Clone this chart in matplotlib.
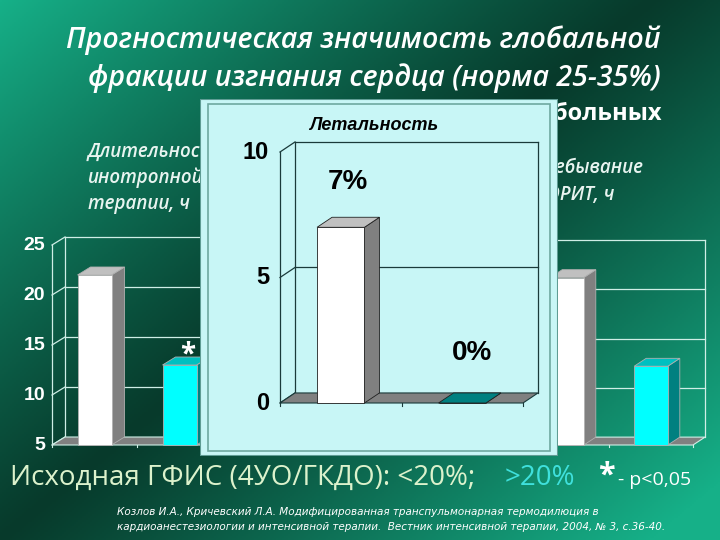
import matplotlib.pyplot as plt
import numpy as np
from matplotlib.patches import Polygon, Rectangle

plt.rcParams['font.family'] = ['Open Sans', 'DejaVu Sans']

# data
left_vals = [22, 13]       # Длительность инотропной терапии, ч
right_vals = [22, 13]      # Пребывание в ОРИТ, ч
main_ticks = [5, 10, 15, 20, 25]
lethal_vals = [7, 0]       # Летальность, %
lethal_labels = ['7%', '0%']
lethal_ticks = [0, 5, 10]

face_cols = ['#ffffff', '#00ffff']
side_cols = ['#808080', '#008080']
top_cols = ['#c0c0c0', '#00c0c0']


def bars3d(ax, vals, base, width, dx, dy, edge):
    xs = np.arange(len(vals)) + 0.5
    for i, (x, v) in enumerate(zip(xs, vals)):
        l, r = x - width / 2, x + width / 2
        ax.add_patch(Polygon([(r, base), (r + dx, base + dy), (r + dx, v + dy), (r, v)],
                             closed=True, fc=side_cols[i], ec=edge, lw=0.6, zorder=4, clip_on=False))
        ax.add_patch(Polygon([(l, v), (r, v), (r + dx, v + dy), (l + dx, v + dy)],
                             closed=True, fc=top_cols[i] if v > base else side_cols[i],
                             ec=edge, lw=0.6, zorder=4, clip_on=False))
    ax.bar(xs, [v - base for v in vals], width, bottom=base, color=face_cols,
           edgecolor=edge, linewidth=0.6, zorder=5, clip_on=False)


def frame3d(ax, n, ticks, dx, dy, col, floor_col='#808080', right_wall=False):
    lo, hi = ticks[0], ticks[-1]
    ax.add_patch(Polygon([(0, lo), (n, lo), (n + dx, lo + dy), (dx, lo + dy)],
                         closed=True, fc=floor_col, ec=col, lw=0.8, zorder=2, clip_on=False))
    for t in ticks[1:]:
        ax.plot([dx, n + dx], [t + dy, t + dy], color=col, lw=0.9, zorder=1, clip_on=False)
    ax.plot([dx, dx], [lo + dy, hi + dy], color=col, lw=0.9, zorder=1, clip_on=False)
    ax.plot([0, 0], [lo, hi], color=col, lw=0.9, zorder=1, clip_on=False)
    for t in ticks:
        ax.plot([0, dx], [t, t + dy], color=col, lw=0.9, zorder=1, clip_on=False)
    if right_wall:
        ax.plot([n + dx, n + dx], [lo + dy, hi + dy], color=col, lw=0.9, zorder=1, clip_on=False)
    for k in range(n + 1):
        ax.plot([k, k], [lo, lo - (hi - lo) * 0.012], color=col, lw=0.8, clip_on=False)
    ax.set_xlim(0, n)
    ax.set_ylim(lo, hi)
    ax.axis('off')


fig = plt.figure(figsize=(7.2, 5.4), dpi=100)
W, H = 720, 540

# background gradient (texts behind the inset live on this axes too)
bg = fig.add_axes([0, 0, 1, 1])
yy, xx = np.mgrid[0:1:270j, 0:1:360j]
u = np.clip(np.abs(xx * 1.05 + yy * 0.95 - 0.95) / 0.95, 0, 1) ** 1.1
dark = np.array([0x07, 0x3a, 0x2b]) / 255
light = np.array([0x16, 0xb0, 0x88]) / 255
img = dark + (light - dark) * u[..., None]
bg.imshow(img, extent=[0, W, H, 0], aspect='auto')
bg.set_xlim(0, W)
bg.set_ylim(H, 0)
bg.axis('off')


def px(x0, y0, x1, y1):
    return [x0 / W, 1 - y1 / H, (x1 - x0) / W, (y1 - y0) / H]


# title
title_kw = dict(color='white', fontsize=20.5, style='italic', fontweight='semibold',
                ha='right', va='center')
bg.text(661, 40, 'Прогностическая значимость глобальной', **title_kw)
bg.text(661, 78, 'фракции изгнания сердца (норма 25-35%)', **title_kw)
bg.text(662, 114, 'больных', color='white',
        fontsize=17, fontweight='bold', ha='right', va='center')

# chart captions
for i, s in enumerate(['Длительность', 'инотропной', 'терапии, ч']):
    bg.text(88, 152 + 26 * i, s, color='#e8f4f0', fontsize=13.5, fontweight='semibold',
            style='italic', ha='left', va='center')
for i, s in enumerate(['Пребывание', 'в ОРИТ, ч']):
    bg.text(531, 168 + 27 * i, s, color='#e8f4f0', fontsize=13.5, fontweight='semibold',
            style='italic', ha='left', va='center')

# left chart
axl = fig.add_axes(px(52, 245, 222, 445))
frame3d(axl, 2, main_ticks, 13 / 85, 0.8, '#cfeee6')
bars3d(axl, left_vals, 5, 0.4, 13 / 85, 0.8, '#b0b0b0')
for t in main_ticks:
    axl.text(-0.08, t, str(t), color='white', fontsize=14, fontweight='bold',
             family='Liberation Sans', ha='right', va='center')
axl.text(1.5 + 0.1, left_vals[1] + 1.0, '*', color='white', fontsize=20,
         fontweight='bold', ha='center', va='center')

# right chart
axr = fig.add_axes(px(525, 248, 693, 445))
frame3d(axr, 2, main_ticks, 12 / 84, 0.8, '#cfeee6', right_wall=True)
bars3d(axr, right_vals, 5, 0.4, 12 / 84, 0.8, '#b0b0b0')

# inset: lethality
box = fig.add_axes(px(200, 99, 558, 456))
box.set_xlim(0, 1)
box.set_ylim(0, 1)
box.add_patch(Rectangle((0, 0), 1, 1, fc='#c8f6f6', ec='#5f9c94', lw=1.5))
box.add_patch(Rectangle((0.022, 0.014), 0.956, 0.972, fc='none', ec='#6fa8a0', lw=1.2))
box.text(0.484, 0.926, 'Летальность', color='black', fontsize=13,
         fontweight='bold', style='italic', family='Liberation Sans', ha='center', va='center')
box.axis('off')

axi = fig.add_axes(px(280, 152, 523, 403))
frame3d(axi, 2, lethal_ticks, 15 / 121.5, 0.4, '#1a3a3a', right_wall=True)
bars3d(axi, lethal_vals, 0, 0.39, 15 / 121.5, 0.4, '#202020')
for t in lethal_ticks:
    axi.text(-0.09, t, str(t), color='black', fontsize=17, fontweight='bold',
             family='Liberation Sans', ha='right', va='center')
axi.text(0.56, 8.8, lethal_labels[0], color='black', fontsize=20, fontweight='bold',
         family='Liberation Sans', ha='center', va='center')
axi.text(1.58, 2.0, lethal_labels[1], color='black', fontsize=20, fontweight='bold',
         family='Liberation Sans', ha='center', va='center')

# legend line
y_leg = 1 - 478 / H
fig.text(10 / W, y_leg, 'Исходная ГФИС (4УО/ГКДО): <20%;', color='#dcf2cc',
         fontsize=20, ha='left', va='center')
fig.text(505 / W, y_leg, '>20%', color='#3fe0dc', fontsize=20, ha='left', va='center')
fig.text(598 / W, y_leg + 0.004, '*', color='white', fontsize=22, fontweight='bold',
         ha='left', va='center')
fig.text(618 / W, y_leg - 0.004, '- p<0,05', color='white', fontsize=14, ha='left', va='center')

# reference
ref_kw = dict(color='white', fontsize=7.5, style='italic', family='Liberation Sans Narrow',
              ha='left', va='center')
fig.text(117 / W, 1 - 512 / H,
         'Козлов И.А., Кричевский Л.А. Модифицированная транспульмонарная термодилюция в', **ref_kw)
fig.text(117 / W, 1 - 527 / H,
         'кардиоанестезиологии и интенсивной терапии.  Вестник интенсивной терапии, 2004, № 3, с.36-40.',
         **ref_kw)

fig.savefig('out.png', dpi=100)
